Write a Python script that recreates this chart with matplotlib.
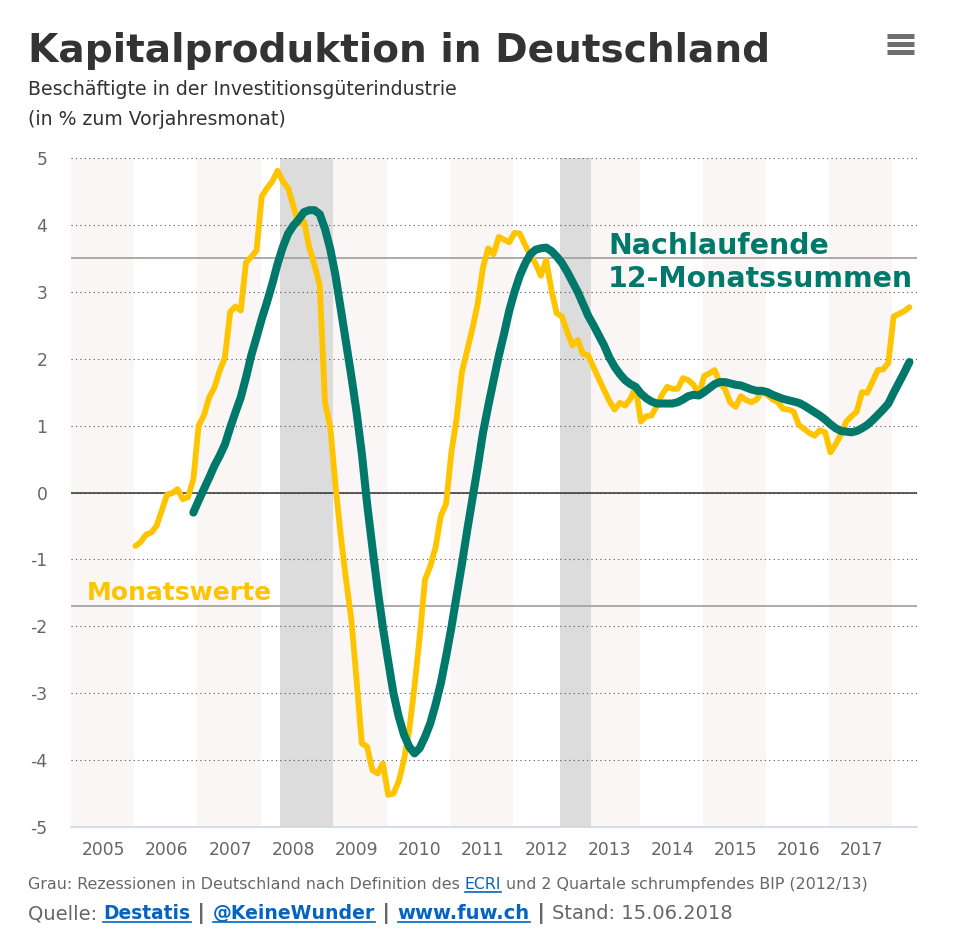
import matplotlib
matplotlib.use("Agg")
import matplotlib.pyplot as plt
from matplotlib.lines import Line2D

plt.rcParams['font.family'] = ['DejaVu Sans']

start_year = 2006
monatswerte = [
 -0.80,-0.74,-0.63,-0.60,-0.50,-0.27,-0.03,-0.01,0.05,-0.10,-0.07,0.20,
 1.00,1.15,1.42,1.57,1.82,2.02,2.70,2.78,2.72,3.44,3.52,3.62,
 4.43,4.55,4.65,4.81,4.65,4.55,4.28,4.02,4.05,3.67,3.40,3.10,
 1.35,0.98,0.10,-0.65,-1.30,-1.90,-2.80,-3.75,-3.80,-4.15,-4.20,-4.05,
 -4.52,-4.50,-4.32,-4.00,-3.55,-2.90,-2.15,-1.30,-1.10,-0.82,-0.35,-0.17,
 0.60,1.10,1.80,2.12,2.45,2.82,3.36,3.65,3.56,3.82,3.78,3.74,
 3.88,3.87,3.70,3.55,3.42,3.24,3.47,3.03,2.68,2.63,2.40,2.20,
 2.28,2.07,2.05,1.87,1.70,1.53,1.37,1.24,1.34,1.30,1.40,1.58,
 1.06,1.14,1.15,1.29,1.46,1.58,1.55,1.55,1.71,1.68,1.61,1.46,
 1.74,1.78,1.83,1.64,1.54,1.34,1.28,1.44,1.38,1.35,1.39,1.51,
 1.46,1.39,1.35,1.25,1.24,1.21,1.01,0.95,0.89,0.85,0.93,0.90,
 0.60,0.72,0.87,1.06,1.14,1.21,1.50,1.49,1.66,1.83,1.84,1.94,
 2.63,2.67,2.71,2.77]
summen_offset = 11
summen = [
 -0.30,-0.12,0.05,0.22,0.40,0.55,0.72,0.97,1.20,1.42,1.72,2.05,2.32,
 2.60,2.85,3.12,3.42,3.67,3.87,3.99,4.08,4.19,4.22,4.22,4.16,
 3.94,3.64,3.24,2.74,2.24,1.74,1.20,0.58,-0.17,-0.82,-1.45,-2.02,
 -2.52,-3.00,-3.35,-3.62,-3.80,-3.90,-3.82,-3.65,-3.45,-3.17,-2.85,-2.45,
 -2.02,-1.55,-1.07,-0.57,-0.10,0.38,0.89,1.29,1.67,2.04,2.37,2.72,
 3.00,3.24,3.42,3.56,3.63,3.65,3.66,3.61,3.53,3.43,3.30,3.15,
 3.00,2.82,2.64,2.50,2.35,2.20,2.02,1.88,1.77,1.68,1.62,1.58,
 1.48,1.41,1.36,1.33,1.33,1.33,1.33,1.35,1.39,1.44,1.46,1.45,
 1.50,1.56,1.62,1.65,1.65,1.63,1.61,1.60,1.57,1.54,1.52,1.52,
 1.50,1.46,1.43,1.40,1.38,1.36,1.34,1.30,1.25,1.20,1.15,1.09,
 1.02,0.96,0.92,0.91,0.90,0.92,0.96,1.01,1.08,1.16,1.24,1.33,
 1.49,1.64,1.79,1.95]
jahre = list(range(2005, 2018))
y_ticks = list(range(-5, 6))
band_jahre = [2005, 2007, 2009, 2011, 2013, 2015, 2017]
rezessionen = [(2008.31, 2009.15), (2012.74, 2013.23)]
referenz = [3.5, -1.7]

W, H = 956, 936
fig = plt.figure(figsize=(W/100, H/100), dpi=100)
ax = fig.add_axes([71/W, 1-827/H, (917-71)/W, (827-158)/H])
ax.set_xlim(2005, 2018.39)
ax.set_ylim(-5, 5)
for s in ax.spines.values():
    s.set_visible(False)
ax.spines['bottom'].set_visible(True)
ax.spines['bottom'].set_color('#ccd6eb')
ax.spines['bottom'].set_linewidth(1.2)

for y in band_jahre:
    ax.axvspan(y, y+1, color='#f9f6f5', lw=0, zorder=0)
for a, b in rezessionen:
    ax.axvspan(a, b, color='#dcdcdc', lw=0, zorder=1)

for y in y_ticks:
    ax.axhline(y, color='#555555', lw=0.8, ls=(0, (1, 3)), zorder=2)
for r in referenz:
    ax.axhline(r, color='#a8a4a4', lw=1.3, zorder=2)
ax.axhline(0, color='#333333', lw=1.1, zorder=2)

month_shift = 0.02
x_m = [start_year + month_shift + i/12 for i in range(len(monatswerte))]
x_s = [start_year + month_shift + (i+summen_offset)/12 for i in range(len(summen))]
ax.plot(x_m, monatswerte, color='#ffc400', lw=4.2, zorder=4,
        solid_joinstyle='round', solid_capstyle='round')
ax.plot(x_s, summen, color='#00796b', lw=5.8, zorder=5,
        solid_joinstyle='round', solid_capstyle='round')

ax.set_yticks(y_ticks)
ax.set_yticklabels([str(v) for v in y_ticks])
ax.set_xticks([y+0.52 for y in jahre])
ax.set_xticklabels([str(y) for y in jahre])
ax.tick_params(axis='both', length=0, labelsize=12.3, labelcolor='#666666')
ax.tick_params(axis='y', pad=17)
ax.tick_params(axis='x', pad=10)

def px(x, y):
    return x/W, 1-y/H

fig.text(*px(28, 62), 'Kapitalproduktion in Deutschland', fontsize=28.15, fontweight='bold',
         color='#333333', va='baseline', ha='left')
fig.text(*px(28, 95), 'Beschäftigte in der Investitionsgüterindustrie', fontsize=13.6,
         color='#333333', va='baseline', ha='left')
fig.text(*px(28, 125), '(in % zum Vorjahresmonat)', fontsize=13.6,
         color='#333333', va='baseline', ha='left')

ax.text(*fig.transFigure.transform(px(608, 243)), 'Nachlaufende', transform=None, fontsize=20.4,
        fontweight='bold', color='#00796b', va='center_baseline', zorder=6)
ax.text(*fig.transFigure.transform(px(608, 276)), '12-Monatssummen', transform=None, fontsize=20.4,
        fontweight='bold', color='#00796b', va='center_baseline', zorder=6)
ax.text(*fig.transFigure.transform(px(87, 591)), 'Monatswerte', transform=None, fontsize=18,
        fontweight='bold', color='#ffc400', va='center_baseline', zorder=6)

def runs(x, y, parts):
    r = fig.canvas.get_renderer()
    for txt, color, bold, link, size in parts:
        t = fig.text(*px(x, y), txt, fontsize=size, color=color,
                     fontweight='bold' if bold else 'normal', va='baseline', ha='left')
        adv, _, _ = r.get_text_width_height_descent(txt, t.get_fontproperties(), False)
        if link:
            fig.add_artist(Line2D([x/W, (x+adv)/W], [1-(y+3)/H]*2, color=color, lw=1.2))
        x += adv

grey = '#666666'
blue = '#0563c1'
runs(28, 889, [('Grau: Rezessionen in Deutschland nach Definition des ', grey, False, False, 11.45),
               ('ECRI', blue, False, True, 11.45),
               (' und 2 Quartale schrumpfendes BIP (2012/13)', grey, False, False, 11.45)])
runs(28, 919, [('Quelle: ', grey, False, False, 14), ('Destatis', blue, True, True, 13.4),
               (' | ', grey, True, False, 15.2), ('@KeineWunder', blue, True, True, 13.6),
               (' | ', grey, True, False, 15.2), ('www.fuw.ch', blue, True, True, 14),
               (' | ', grey, True, False, 15.2), ('Stand: 15.06.2018', grey, False, False, 14)])

for yy in (36, 44, 52):
    fig.add_artist(Line2D([887/W, 913.5/W], [1-yy/H]*2, color='#6e6e6e', lw=3.6,
                          solid_capstyle='butt'))

fig.savefig('out.png', dpi=100)
